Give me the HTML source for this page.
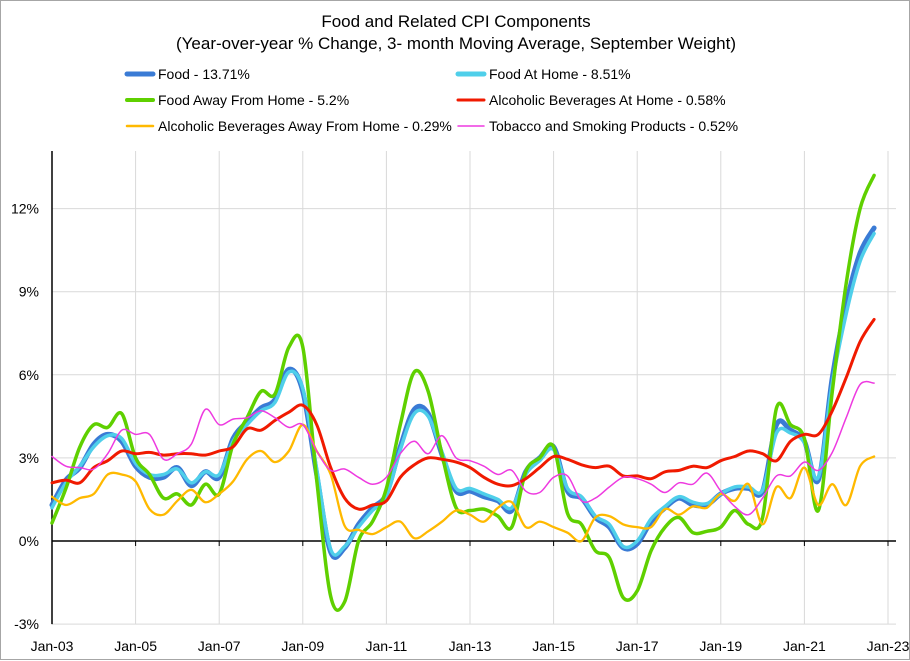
<!DOCTYPE html>
<html><head><meta charset="utf-8"><style>
html,body{margin:0;padding:0;background:#fff}
#wrap{position:relative;width:908px;height:658px;border:1px solid #a6a6a6;font-family:"Liberation Sans",sans-serif}
svg{position:absolute;left:0;top:0}
</style></head><body>
<div id="wrap">
<svg id="chart" width="910" height="660"></svg>
</div>
<script>
const years = [];
for (let i = 0; i < 60; i++) years.push(2003 + i / 3);
const food = [1.3,2.2,2.65,3.5,3.85,3.6,2.7,2.3,2.3,2.65,2.0,2.5,2.3,3.7,4.3,4.8,5.1,6.2,5.4,2.4,-0.4,-0.25,0.6,1.2,1.7,3.4,4.75,4.6,3.1,1.8,
 1.8,1.6,1.45,1.1,2.5,3.0,3.4,1.8,1.55,0.85,0.5,-0.25,-0.1,0.7,1.2,1.55,1.3,1.3,1.7,1.9,1.9,1.8,4.2,4.0,3.6,2.2,5.9,8.55,10.4,11.3];
const foodHome = [1.2,2.1,2.7,3.4,3.8,3.7,2.8,2.4,2.4,2.6,2.1,2.5,2.4,3.6,4.2,4.7,5.0,6.1,5.5,2.6,-0.3,-0.2,0.5,1.1,1.6,3.3,4.6,4.5,3.2,1.9,
 1.9,1.7,1.5,1.2,2.4,2.9,3.3,1.9,1.6,0.9,0.6,-0.2,0.0,0.8,1.25,1.6,1.4,1.35,1.7,1.95,1.95,1.85,3.9,3.9,3.55,2.3,5.7,8.2,10.1,11.1];
const foodAway = [0.65,1.9,3.4,4.2,4.1,4.6,3.0,2.4,1.55,1.7,1.3,2.05,1.7,3.5,4.45,5.4,5.3,7.0,7.0,2.2,-2.0,-2.2,0.0,0.7,1.9,4.2,6.1,5.4,3.1,1.2,
 1.1,1.15,0.9,0.5,2.5,3.0,3.4,1.0,0.6,-0.35,-0.6,-2.05,-1.8,-0.35,0.5,0.85,0.3,0.35,0.5,1.1,0.6,0.85,4.8,4.2,3.7,1.1,5.4,9.3,12.0,13.2];
const alcHome = [2.1,2.2,2.1,2.65,2.9,3.25,3.15,3.2,3.1,3.15,3.15,3.1,3.25,3.4,4.05,4.0,4.35,4.65,4.9,4.2,2.65,1.55,1.15,1.3,1.45,2.3,2.75,3.0,2.95,2.85,
 2.65,2.3,2.05,2.0,2.25,2.65,3.05,2.95,2.75,2.65,2.7,2.35,2.35,2.25,2.5,2.55,2.7,2.65,2.9,3.05,3.25,3.15,2.9,3.6,3.85,3.85,4.7,5.9,7.2,8.0];
const alcAway = [1.6,1.3,1.55,1.7,2.4,2.4,2.15,1.15,0.95,1.45,1.85,1.4,1.7,2.15,2.95,3.25,2.85,3.25,4.2,3.25,2.4,0.55,0.4,0.25,0.5,0.7,0.1,0.35,0.7,1.1,
 0.95,0.7,1.2,1.4,0.5,0.7,0.5,0.3,0.0,0.85,0.9,0.6,0.5,0.5,1.15,0.95,1.25,1.2,1.7,1.45,2.05,0.6,1.95,1.55,2.65,1.3,2.05,1.3,2.7,3.05];
const tobacco = [3.05,2.7,2.65,2.6,3.15,4.0,3.85,3.85,2.95,3.15,3.5,4.75,4.2,4.4,4.45,4.7,4.45,4.1,4.2,3.25,2.55,2.6,2.3,2.05,2.3,3.15,3.6,3.15,3.8,3.0,
 2.9,2.7,2.4,2.55,1.8,1.75,2.3,2.35,1.45,1.55,1.95,2.3,2.25,2.05,1.75,2.1,2.05,2.45,1.8,1.25,0.95,1.55,2.35,2.35,2.85,2.55,3.2,4.45,5.65,5.7];
const yTicks = [-3,0,3,6,9,12];
const yTickLabels = ["-3%","0%","3%","6%","9%","12%"];
const xTicks = [2003,2005,2007,2009,2011,2013,2015,2017,2019,2021,2023];
const xTickLabels = ["Jan-03","Jan-05","Jan-07","Jan-09","Jan-11","Jan-13","Jan-15","Jan-17","Jan-19","Jan-21","Jan-23"];

const NS = "http://www.w3.org/2000/svg";
const svg = document.getElementById('chart');
const X = t => 51 + (t - 2003) * 41.8;
const Y = v => 540 - v * 27.7;
function mk(tag, attrs, parent) { const e = document.createElementNS(NS, tag); for (const k in attrs) e.setAttribute(k, attrs[k]); (parent || svg).appendChild(e); return e; }

// grid
yTicks.forEach((v, i) => {
  if (v !== 0) { const g = mk('line', {x1: 51, x2: 895, y1: Y(v), y2: Y(v), stroke: '#d9d9d9', 'stroke-width': 1});
      }
  const t = mk('text', {x: 38, y: Y(v) + 5, 'text-anchor': 'end', 'font-size': 14, fill: '#000'});
  t.textContent = yTickLabels[i];
   
});
xTicks.forEach((yr, i) => {
  if (i > 0) { const g = mk('line', {x1: X(yr), x2: X(yr), y1: 150, y2: Y(-3), stroke: '#d9d9d9', 'stroke-width': 1});
      }
  const tk = mk('line', {x1: X(yr), x2: X(yr), y1: Y(0), y2: Y(0) + 5, stroke: '#000'});
   
  const t = mk('text', {x: X(yr), y: 650, 'text-anchor': 'middle', 'font-size': 14, fill: '#000'});
  t.textContent = xTickLabels[i];
   
});
const ya = mk('line', {x1: 51, x2: 51, y1: 150, y2: Y(-3), stroke: '#000', 'stroke-width': 1.5});
 
const xa = mk('line', {x1: 51, x2: 895, y1: Y(0), y2: Y(0), stroke: '#000', 'stroke-width': 1.5});
 

function pathFor(vals) {
  const p = vals.map((v, i) => [X(years[i]), Y(v)]);
  let d = `M${p[0][0]},${p[0][1]}`;
  for (let i = 0; i < p.length - 1; i++) {
    const p0 = p[Math.max(0, i - 1)], p1 = p[i], p2 = p[i + 1], p3 = p[Math.min(p.length - 1, i + 2)];
    const c1 = [p1[0] + (p2[0] - p0[0]) / 6, p1[1] + (p2[1] - p0[1]) / 6];
    const c2 = [p2[0] - (p3[0] - p1[0]) / 6, p2[1] - (p3[1] - p1[1]) / 6];
    d += `C${c1[0].toFixed(1)},${c1[1].toFixed(1)} ${c2[0].toFixed(1)},${c2[1].toFixed(1)} ${p2[0].toFixed(1)},${p2[1].toFixed(1)}`;
  }
  return d;
}
const series = [
  [food, '#3a7bd5', 5, 'series-food'],
  [foodHome, '#4fcfea', 3.5, 'series-food-at-home'],
  [foodAway, '#5fd000', 3.5, 'series-food-away-from-home'],
  [alcHome, '#f01a00', 3, 'series-alcoholic-beverages-at-home'],
  [alcAway, '#ffb900', 2.3, 'series-alcoholic-beverages-away'],
  [tobacco, '#ee3ae0', 1.5, 'series-tobacco'],
];
series.forEach(s => {
  const e = mk('path', {d: pathFor(s[0]), fill: 'none', stroke: s[1], 'stroke-width': s[2], 'stroke-linejoin': 'round', 'stroke-linecap': 'round'});
   
});

// title
const t1 = mk('text', {x: 455, y: 26, 'text-anchor': 'middle', 'font-size': 17, fill: '#000'});
t1.textContent = 'Food  and Related CPI Components';
 
const t2 = mk('text', {x: 455, y: 48, 'text-anchor': 'middle', 'font-size': 17, fill: '#000'});
t2.textContent = '(Year-over-year % Change, 3- month Moving Average, September Weight)';
 

// legend
const legend = [
  [126, 73, '#3a7bd5', 5, 'Food - 13.71%'],
  [457, 73, '#4fcfea', 5, 'Food At Home - 8.51%'],
  [126, 99, '#5fd000', 4, 'Food Away From Home - 5.2%'],
  [457, 99, '#f01a00', 3, 'Alcoholic Beverages At Home - 0.58%'],
  [126, 125, '#ffb900', 2.5, 'Alcoholic Beverages Away From Home - 0.29%'],
  [457, 125, '#ee3ae0', 1.5, 'Tobacco and Smoking Products - 0.52%'],
];
legend.forEach(l => {
  const g = mk('g', {});
   
  mk('line', {x1: l[0], x2: l[0] + 26, y1: l[1], y2: l[1], stroke: l[2], 'stroke-width': l[3], 'stroke-linecap': 'round'}, g);
  const t = mk('text', {x: l[0] + 31, y: l[1] + 5, 'font-size': 14, fill: '#000'}, g);
  t.textContent = l[4];
});
</script>
</body></html>
